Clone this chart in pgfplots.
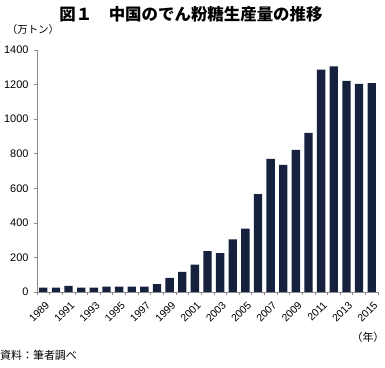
\documentclass[border=0pt]{standalone}
\usepackage{pgfplots}
\pgfplotsset{compat=1.18}
\usepackage{pgfplotstable}
\usepackage{fontspec}
\setmainfont{Liberation Sans}
\newfontfamily\jp{Noto Sans CJK JP}
\definecolor{barc}{HTML}{15213D}
\definecolor{axc}{HTML}{8C8C8C}
\pgfplotstableread{
x val
0 25
1 25
2 36
3 25
4 25
5 31
6 31
7 31
8 31
9 45
10 81
11 116
12 159
13 237
14 225
15 304
16 366
17 566
18 770
19 735
20 822
21 921
22 1287
23 1305
24 1222
25 1204
26 1208
}\data
\tikzset{yl/.style={rotate=45, anchor=north east, inner sep=1pt, xshift=-4bp, yshift=-6bp, font=\fontsize{10.5}{12}\selectfont}}
\begin{document}
\begin{tikzpicture}
\useasboundingbox (0,0) rectangle (385bp,368bp);
\begin{axis}[
  at={(37bp,76bp)}, anchor=south west,
  scale only axis, width=341bp, height=242bp,
  xmin=-0.5, xmax=26.5, ymin=0, ymax=1400,
  axis x line*=bottom, axis y line*=left,
  axis line style={axc, line width=0.8pt, -},
  ytick={0,200,...,1400},
  xtick={-0.5,0.5,...,26.5},
  xticklabels={},
  tick align=outside,
  major tick length=3bp,
  tick style={axc, line width=0.6pt},
  /pgf/number format/assume math mode=true,
  /pgf/number format/1000 sep={},
  tick label style={font=\fontsize{11}{13}\selectfont},
  y tick label style={xshift=-2bp},
  clip=false,
]
\addplot[ybar, bar width=0.66, fill=barc, draw=none] table[x=x, y=val] {\data};
\node[yl] at (axis cs:0,0) {1989};
\node[yl] at (axis cs:2,0) {1991};
\node[yl] at (axis cs:4,0) {1993};
\node[yl] at (axis cs:6,0) {1995};
\node[yl] at (axis cs:8,0) {1997};
\node[yl] at (axis cs:10,0) {1999};
\node[yl] at (axis cs:12,0) {2001};
\node[yl] at (axis cs:14,0) {2003};
\node[yl] at (axis cs:16,0) {2005};
\node[yl] at (axis cs:18,0) {2007};
\node[yl] at (axis cs:20,0) {2009};
\node[yl] at (axis cs:22,0) {2011};
\node[yl] at (axis cs:24,0) {2013};
\node[yl] at (axis cs:26,0) {2015};
\end{axis}
\node at (191bp,354bp) {\jp\bfseries\fontsize{16.5}{18}\selectfont 図１　中国のでん粉糖生産量の推移};
\node at (33bp,338bp) {\jp\fontsize{10.5}{12}\selectfont （万トン）};
\node at (368bp,31bp) {\jp\fontsize{11}{12}\selectfont （年）};
\node[anchor=west, inner sep=0pt] at (0bp,13bp) {\jp\fontsize{11}{12}\selectfont 資料：筆者調べ};
\end{tikzpicture}
\end{document}
